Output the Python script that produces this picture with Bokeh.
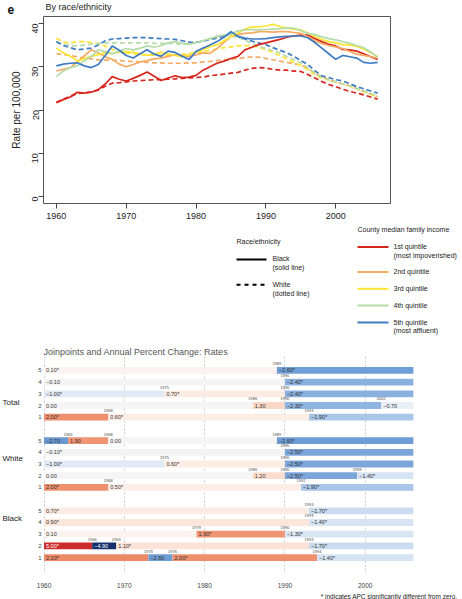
import math
from bokeh.plotting import figure
from bokeh.models import Range1d, FixedTicker, Title
from bokeh.layouts import column
from bokeh.embed import file_html
from bokeh.resources import INLINE
from bokeh.core.properties import value

FONT = "Liberation Sans"

# ---------------- data: top panel ----------------
years = list(range(1960, 2007))
x_ticks = [1960, 1970, 1980, 1990, 2000]
y_ticks = [0, 10, 20, 30, 40]

black_q1 = [21.7, 22.4, 23.0, 24.1, 23.9, 24.1, 24.7, 26.0, 27.7, 27.1,
            26.7, 27.3, 28.0, 28.8, 27.8, 26.8, 27.4, 27.9, 27.5, 27.6,
            28.0, 29.2, 30.0, 30.8, 31.3, 31.9, 32.4, 33.9, 34.5, 35.1,
            35.5, 35.9, 36.3, 36.8, 37.1, 37.3, 37.3, 36.5, 35.8, 35.2,
            34.8, 34.0, 33.9, 33.6, 33.0, 32.3, 31.7]
black_q2 = [29.0, 29.4, 29.8, 31.1, 32.5, 33.9, 33.2, 32.3, 31.7, 30.6,
            30.0, 30.5, 31.1, 31.4, 31.8, 32.0, 32.4, 32.8, 32.6, 32.4,
            32.7, 33.2, 33.1, 34.2, 35.6, 37.0, 37.4, 37.7, 37.8, 38.1,
            38.1, 38.0, 38.1, 38.1, 37.9, 37.7, 36.9, 36.0, 35.4, 34.9,
            34.6, 34.2, 33.5, 32.9, 32.6, 32.3, 32.0]
black_q3 = [34.3, 33.2, 32.4, 31.3, 31.9, 32.4, 32.8, 33.2, 33.0, 33.4,
            33.5, 33.3, 33.0, 32.6, 32.9, 33.3, 33.0, 32.6, 32.3, 32.8,
            33.4, 33.9, 34.6, 35.1, 36.0, 36.9, 37.7, 38.7, 39.2, 39.2,
            39.4, 39.8, 39.3, 38.9, 38.7, 38.5, 37.8, 37.0, 36.3, 35.8,
            35.5, 35.1, 35.0, 34.7, 34.1, 33.2, 32.3]
black_q4 = [27.7, 29.0, 29.8, 30.2, 31.4, 32.4, 33.9, 33.5, 33.0, 33.6,
            34.2, 33.9, 34.3, 34.8, 34.5, 34.9, 35.5, 35.8, 35.4, 35.2,
            35.6, 36.0, 36.5, 37.0, 37.3, 37.5, 38.3, 38.5, 38.6, 38.5,
            38.6, 38.7, 38.8, 38.9, 38.9, 38.3, 37.7, 37.4, 36.9, 36.5,
            36.2, 35.8, 35.4, 34.9, 34.4, 33.4, 32.2]
black_q5 = [30.2, 30.6, 30.8, 30.9, 30.2, 29.8, 30.5, 32.6, 34.8, 33.8,
            32.6, 32.0, 33.0, 33.9, 32.9, 32.4, 33.6, 33.3, 32.4, 31.7,
            33.5, 34.3, 35.0, 35.8, 36.8, 38.1, 37.0, 36.6, 36.4, 36.4,
            36.5, 36.7, 36.9, 37.0, 37.1, 37.1, 36.7, 35.6, 34.3, 33.0,
            31.7, 32.6, 32.3, 32.0, 31.0, 30.8, 31.0]

white_q1 = [21.8, 22.5, 23.2, 23.8, 24.0, 24.2, 24.6, 25.5, 26.2, 26.3,
            26.5, 26.7, 26.8, 26.9, 27.0, 27.0, 27.1, 27.2, 27.3, 27.4,
            27.5, 27.6, 27.9, 28.1, 28.3, 28.5, 28.7, 29.2, 29.6, 29.8,
            29.7, 29.4, 29.2, 29.2, 29.0, 28.9, 28.2, 27.4, 26.6, 25.9,
            25.4, 24.8, 24.3, 23.9, 23.5, 23.0, 22.5]
white_q2 = [33.0, 32.8, 32.6, 32.3, 32.0, 31.8, 31.6, 31.5, 31.5, 31.4,
            31.3, 31.2, 31.1, 31.0, 30.9, 30.9, 30.8, 30.8, 30.8, 30.9,
            30.9, 31.1, 31.2, 31.4, 31.6, 31.7, 31.9, 32.1, 32.3, 32.2,
            31.9, 31.6, 31.3, 31.0, 30.7, 30.4, 29.6, 28.5, 27.7, 27.0,
            26.5, 26.0, 25.6, 24.9, 24.3, 23.7, 23.1]
white_q3 = [36.6, 35.7, 35.5, 35.8, 35.8, 35.6, 35.3, 34.8, 34.0, 33.5,
            33.2, 33.0, 32.8, 32.7, 32.6, 32.6, 32.6, 32.7, 32.8, 33.0,
            33.2, 33.5, 33.8, 34.1, 34.4, 34.6, 34.8, 34.9, 34.8, 34.5,
            33.9, 33.3, 32.6, 31.8, 31.0, 30.3, 29.3, 28.2, 27.4, 26.9,
            26.4, 26.0, 25.5, 24.9, 24.3, 23.6, 23.0]
white_q4 = [35.6, 35.2, 34.9, 34.8, 35.0, 35.2, 35.4, 35.5, 35.5, 35.5,
            35.5, 35.5, 35.5, 35.5, 35.4, 35.4, 35.4, 35.3, 35.1, 35.3,
            35.6, 36.0, 36.5, 37.0, 37.1, 37.1, 36.8, 36.1, 35.4, 34.7,
            34.2, 33.7, 33.2, 32.3, 31.6, 30.9, 29.8, 28.6, 27.6, 27.0,
            26.5, 26.0, 25.6, 25.0, 24.4, 23.8, 23.3]
white_q5 = [35.8, 34.9, 34.4, 33.9, 34.1, 34.3, 35.0, 36.0, 36.4, 36.5,
            36.6, 36.7, 36.7, 36.7, 36.6, 36.5, 36.4, 36.3, 36.0, 35.7,
            35.6, 35.9, 36.3, 36.6, 37.1, 37.6, 37.0, 36.4, 35.9, 35.5,
            35.1, 34.4, 33.8, 33.2, 32.4, 31.4, 30.5, 29.1, 27.9, 27.5,
            27.0, 26.7, 26.1, 25.4, 24.9, 24.4, 23.9]

quintile_labels = [["1st quintile", "(most impoverished)"], ["2nd quintile"],
                   ["3rd quintile"], ["4th quintile"], ["5th quintile", "(most affluent)"]]

# ---------------- data: joinpoint panel ----------------
groups = ["Total", "White", "Black"]
seg_group = (["Total"] * 14 + ["White"] * 16 + ["Black"] * 15)
seg_quint = ([5, 5, 4, 4, 3, 3, 3, 2, 2, 2, 2, 1, 1, 1] +
             [5, 5, 5, 5, 4, 4, 3, 3, 3, 2, 2, 2, 2, 1, 1, 1] +
             [5, 5, 4, 4, 3, 3, 3, 2, 2, 2, 2, 1, 1, 1, 1])
seg_start = ([1960, 1989, 1960, 1990, 1960, 1975, 1990, 1960, 1986, 1990, 2002, 1960, 1968, 1993] +
             [1960, 1963, 1968, 1989, 1960, 1990, 1960, 1975, 1990, 1960, 1986, 1990, 1999, 1960, 1968, 1992] +
             [1960, 1993, 1960, 1993, 1960, 1979, 1990, 1960, 1966, 1969, 1993, 1960, 1973, 1976, 1994])
seg_end = ([1989, 2006, 1990, 2006, 1975, 1990, 2006, 1986, 1990, 2002, 2006, 1968, 1993, 2006] +
           [1963, 1968, 1989, 2006, 1990, 2006, 1975, 1990, 2006, 1986, 1990, 1999, 2006, 1968, 1992, 2006] +
           [1993, 2006, 1993, 2006, 1979, 1990, 2006, 1966, 1969, 1993, 2006, 1973, 1976, 1994, 2006])
seg_apc = ([0.10, -2.60, -0.10, -2.40, -1.00, 0.70, -2.40, 0.00, 1.30, -2.30, -0.70, 2.00, 0.60, -1.90] +
           [-2.70, 1.90, 0.00, -2.60, -0.10, -2.50, -1.00, 0.60, -2.50, 0.00, 1.20, -2.50, -1.40, 2.00, 0.50, -1.90] +
           [0.70, -1.70, 0.90, -1.40, 0.10, 1.90, -1.30, 5.00, -4.90, 1.10, -1.70, 2.10, -2.60, 2.00, -1.40])
seg_sig = ([True, True, False, True, True, True, True, False, False, True, False, True, True, True] +
           [False, False, False, True, True, True, True, True, True, False, False, True, True, True, True, True] +
           [True, True, True, True, False, True, True, True, False, True, True, True, False, True, True])

# ---------------- styles ----------------
quint_colors = ["#D7261E", "#F7AA62", "#FFE433", "#B5DCA8", "#3F7CC3"]
NEG_STOPS = [(0.0, "#F6F5F5"), (0.7, "#E9EFF7"), (1.0, "#E1EAF5"), (1.5, "#D4E2F2"),
             (1.8, "#C6D9EF"), (1.9, "#A9C5E7"), (2.4, "#8AB0DF"), (2.6, "#6F9DD6"), (4.9, "#15306B")]
POS_STOPS = [(0.0, "#F6F5F5"), (0.1, "#FBF3EF"), (0.6, "#FCEDE5"), (1.1, "#FBE2D6"),
             (1.3, "#F9D8C5"), (1.9, "#EF9573"), (2.1, "#EC8A68"), (5.0, "#CC2B2B")]


def _rgb(h):
    return tuple(int(h[i:i + 2], 16) for i in (1, 3, 5))


def apc_color(v):
    stops = POS_STOPS if v >= 0 else NEG_STOPS
    a = abs(v)
    for (v0, c0), (v1, c1) in zip(stops, stops[1:]):
        if a <= v1:
            t = (a - v0) / (v1 - v0) if v1 > v0 else 0.0
            r0, r1 = _rgb(c0), _rgb(c1)
            return "#%02x%02x%02x" % tuple(int(round(r0[k] + (r1[k] - r0[k]) * t)) for k in range(3))
    return stops[-1][1]


def apc_label(v, s):
    txt = "%.2f" % abs(v)
    if v < 0:
        txt = "\u2212" + txt
    return txt + ("*" if s else "")


def no_align(fig):
    if "frame_align" in fig.properties():
        fig.frame_align = False


W = 462

# ---------------- heading strip ----------------
TH = 16
T = figure(width=W, height=TH, output_backend="svg", toolbar_location=None,
           x_range=Range1d(0, W), y_range=Range1d(TH, 0),
           x_axis_type=None, y_axis_type=None, min_border=0)
T.grid.visible = False
T.outline_line_color = None
T.text(x=[45], y=[6], text=["By race/ethnicity"], text_font=value(FONT), text_font_size="9px",
       text_baseline="middle", text_align="left", text_color="#222222")
T.text(x=[7], y=[9], text=["e"], text_font=value(FONT), text_font_size="12px", text_font_style="bold",
       text_baseline="middle", text_align="left", text_color="#111111")
no_align(T)

# ---------------- top chart ----------------
A = figure(width=W, height=208, output_backend="svg", toolbar_location=None,
           x_range=Range1d(1958.16, 2007.84), y_range=Range1d(-1.6, 41.6),
           min_border_left=43, min_border_right=72, min_border_top=0, min_border_bottom=21)
for ax in (A.xaxis[0], A.yaxis[0]):
    ax.axis_line_color = None
    ax.major_tick_out = 5
    ax.major_tick_in = 0
    ax.minor_tick_line_color = None
    ax.major_tick_line_color = "#444444"
    ax.major_label_text_font = FONT
    ax.major_label_text_font_size = "9px"
    ax.major_label_text_color = "#222222"
A.xaxis.ticker = FixedTicker(ticks=x_ticks)
A.yaxis.ticker = FixedTicker(ticks=y_ticks)
A.xaxis.major_label_standoff = 4
A.yaxis.major_label_orientation = math.pi / 2
A.yaxis.major_label_standoff = 3
A.yaxis.axis_label = "Rate per 100,000"
A.yaxis.axis_label_text_font = FONT
A.yaxis.axis_label_text_font_size = "10px"
A.yaxis.axis_label_text_font_style = "normal"
A.yaxis.axis_label_text_color = "#222222"
A.yaxis.axis_label_standoff = 5
A.grid.visible = False
A.outline_line_color = "#555555"
A.outline_line_width = 1
no_align(A)

white_series = [white_q1, white_q2, white_q3, white_q4, white_q5]
black_series = [black_q1, black_q2, black_q3, black_q4, black_q5]
for s, c in zip(white_series, quint_colors):
    A.line(years, s, line_color=c, line_width=1.7, line_dash="5 3")
for s, c in zip(black_series, quint_colors):
    A.line(years, s, line_color=c, line_width=1.7)

# ---------------- legend strip ----------------
LH = 118
L = figure(width=W, height=LH, output_backend="svg", toolbar_location=None,
           x_range=Range1d(0, W), y_range=Range1d(LH, 0),
           x_axis_type=None, y_axis_type=None, min_border=0)
L.grid.visible = False
L.outline_line_color = None
no_align(L)

txt_kw = dict(text_font=value(FONT), text_font_size="7px", text_baseline="middle",
              text_align="left", text_color="#222222")
L.text(x=[236], y=[17], text=["Race/ethnicity"], **txt_kw)
L.line([236, 266], [35, 35], line_color="black", line_width=2)
L.line([236, 266], [60.3, 60.3], line_color="black", line_width=2, line_dash="4 4")
L.text(x=[272, 272, 272, 272], y=[34.3, 43, 60, 68.7],
       text=["Black", "(solid line)", "White", "(dotted line)"], **txt_kw)

L.text(x=[357], y=[4.7], text=["County median family income"], **txt_kw)
leg_y = [22.5, 47.5, 64.3, 81, 98]
for yy, c, labs in zip(leg_y, quint_colors, quintile_labels):
    L.line([357, 388], [yy, yy], line_color=c, line_width=2)
    L.text(x=[393] * len(labs), y=[yy - 0.5 + 8.5 * k for k in range(len(labs))], text=labs, **txt_kw)

# ---------------- joinpoint panel ----------------
B = figure(width=W, height=257, output_backend="svg", toolbar_location=None,
           x_range=Range1d(1954.58, 2012.12), y_range=Range1d(17.36, -1.19),
           y_axis_type=None, min_border_left=0, min_border_right=0,
           min_border_top=14, min_border_bottom=25)
B.title.text = "Joinpoints and Annual Percent Change: Rates"
B.title.text_font = FONT
B.title.text_font_size = "9px"
B.title.text_font_style = "normal"
B.title.text_color = "#555555"
B.title.offset = 43
B.title.standoff = 0
B.outline_line_color = None
B.xaxis.ticker = FixedTicker(ticks=x_ticks)
B.xaxis.axis_line_color = None
B.xaxis.major_tick_line_color = None
B.xaxis.minor_tick_line_color = None
B.xaxis.major_label_text_font = FONT
B.xaxis.major_label_text_font_size = "6.5px"
B.xaxis.major_label_text_color = "#444444"
B.xaxis.major_label_standoff = 3
B.ygrid.visible = False
B.xgrid.grid_line_color = "#BDBDBD"
B.xgrid.grid_line_dash = "2 2"
B.xgrid.grid_line_width = 0.8
no_align(B)

B.add_layout(Title(text="* indicates APC significantly different from zero.", align="right",
                   offset=5, standoff=0, text_font=FONT, text_font_size="6.5px",
                   text_font_style="normal", text_color="#222222"), "below")

rows = [groups.index(g) * 6 + (5 - q) for g, q in zip(seg_group, seg_quint)]
fills = [apc_color(v) for v in seg_apc]
B.hbar(y=rows, left=seg_start, right=seg_end, height=0.58, fill_color=fills, line_color=None)

labels = [apc_label(v, s) for v, s in zip(seg_apc, seg_sig)]
tcols = ["#FFFFFF" if abs(v) >= 4 else "#333333" for v in seg_apc]
B.text(x=[s + 0.25 for s in seg_start], y=rows, text=labels, text_color=tcols,
       text_font=value(FONT), text_font_size="5.5px", text_baseline="middle", text_align="left")

jp_x = [s for s in seg_start if s > 1960]
jp_y = [r - 0.56 for s, r in zip(seg_start, rows) if s > 1960]
B.text(x=jp_x, y=jp_y, text=[str(s) for s in jp_x], text_color="#444444",
       text_font=value(FONT), text_font_size="4px", text_baseline="middle", text_align="center")

row_idx = sorted(set(rows))
row_q = [5 - (r % 6) for r in row_idx]
B.text(x=[1959.69] * len(row_idx), y=row_idx, text=[str(q) for q in row_q], text_color="#444444",
       text_font=value(FONT), text_font_size="6px", text_baseline="middle", text_align="right")

B.text(x=[1954.83] * 3, y=[2.70, 7.57, 12.62], text=groups, text_color="#222222",
       text_font=value(FONT), text_font_size="8px", text_baseline="middle", text_align="left")

p = column(T, A, L, B)
open("out.html", "w").write(file_html(p, INLINE))
